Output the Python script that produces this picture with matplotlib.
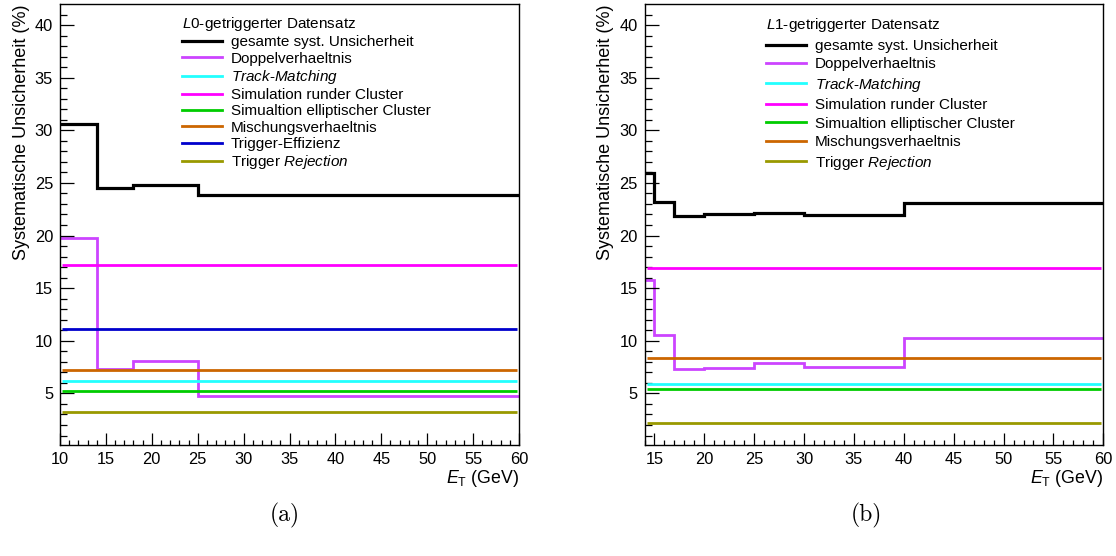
import matplotlib
matplotlib.use("Agg")
import matplotlib.pyplot as plt
from matplotlib.lines import Line2D
from matplotlib.ticker import MultipleLocator

plt.rcParams["font.family"] = ["Liberation Sans", "DejaVu Sans"]
plt.rcParams["mathtext.fontset"] = "custom"
plt.rcParams["mathtext.rm"] = "Liberation Sans"
plt.rcParams["mathtext.it"] = "Liberation Sans:italic"
plt.rcParams["mathtext.bf"] = "Liberation Sans:bold"

# ---- L0-triggered data set ----
l0_edges = [10, 14, 18, 25, 60]
l0_total = [30.6, 24.5, 24.8, 23.85]
l0_double_ratio = [19.75, 7.3, 8.1, 4.75]
l0_track_matching = 6.15
l0_sim_round = 17.2
l0_sim_elliptic = 5.25
l0_mixing = 7.25
l0_trigger_eff = 11.1
l0_trigger_rej = 3.2

# ---- L1-triggered data set ----
l1_edges = [14, 15, 17, 20, 25, 30, 40, 60]
l1_total = [25.95, 23.2, 21.85, 22.0, 22.1, 21.95, 23.05]
l1_double_ratio = [15.75, 10.55, 7.3, 7.45, 7.9, 7.5, 10.3]
l1_track_matching = 5.9
l1_sim_round = 16.95
l1_sim_elliptic = 5.45
l1_mixing = 8.4
l1_trigger_rej = 2.15

label_total = "gesamte syst. Unsicherheit"
label_ratio = "Doppelverhaeltnis"
label_track = r"$\mathit{Track\text{-}Matching}$"
label_round = "Simulation runder Cluster"
label_ellip = "Simualtion elliptischer Cluster"
label_mix = "Mischungsverhaeltnis"
label_eff = "Trigger-Effizienz"
label_rej = r"Trigger $\mathit{Rejection}$"

c_total = "black"
c_ratio = "#cc44ff"
c_track = "#22ffff"
c_round = "#ff00ff"
c_ellip = "#00cc00"
c_mix = "#cc6600"
c_eff = "#0000cc"
c_rej = "#999900"

W, H = 1116, 556
fig = plt.figure(figsize=(W / 100, H / 100), dpi=100)

def px_rect(x0, x1, ytop, ybot):
    return [x0 / W, 1 - ybot / H, (x1 - x0) / W, (ybot - ytop) / H]

def draw_panel(ax, edges, total, ratio, consts, title, leg_xy, leg_spacing):
    lw_tot, lw = 2.3, 2.0
    ax.stairs(total, edges, baseline=None, color=c_total, lw=lw_tot)
    ax.stairs(ratio, edges, baseline=None, color=c_ratio, lw=lw)
    inset = 0.25
    for val, lab, col in consts:
        ax.plot([edges[0] + inset, edges[-1] - inset], [val, val],
                color=col, lw=lw, solid_capstyle="butt")

    ax.set_xlim(edges[0], edges[-1])
    ax.set_ylim(0.1, 41.97)
    ax.xaxis.set_major_locator(MultipleLocator(5))
    ax.xaxis.set_minor_locator(MultipleLocator(1))
    ax.yaxis.set_minor_locator(MultipleLocator(1))
    ax.set_yticks([5, 10, 15, 20, 25, 30, 35, 40])
    ax.tick_params(axis="both", which="both", direction="in",
                   top=False, right=False, labelsize=11.8, pad=5)
    ax.tick_params(axis="y", which="major", length=10, width=0.9)
    ax.tick_params(axis="y", which="minor", length=4.8, width=0.9)
    ax.tick_params(axis="x", which="major", length=9, width=0.9)
    ax.tick_params(axis="x", which="minor", length=3.6, width=0.9)
    for s in ax.spines.values():
        s.set_linewidth(1.0)

    ax.set_ylabel("Systematische Unsicherheit (%)", fontsize=13, loc="top")
    ax.yaxis.set_label_coords(-0.066, 1.0)
    ax.set_xlabel(r"$E_{\mathrm{T}}$ (GeV)", fontsize=12.8, loc="right")
    ax.xaxis.set_label_coords(1.0, -0.052)

    handles = [Line2D([], [], color=c_total, lw=lw_tot),
               Line2D([], [], color=c_ratio, lw=lw)]
    labels = [label_total, label_ratio]
    for val, lab, col in consts:
        handles.append(Line2D([], [], color=col, lw=lw))
        labels.append(lab)
    leg = ax.legend(handles, labels, title=title, loc="upper left",
                    bbox_to_anchor=(leg_xy[0] / W, 1 - leg_xy[1] / H),
                    bbox_transform=fig.transFigure, frameon=False,
                    fontsize=11, title_fontsize=11, borderpad=0,
                    handlelength=2.6, handletextpad=0.6,
                    labelspacing=leg_spacing, alignment="left",
                    borderaxespad=0)
    return leg

ax1 = fig.add_axes(px_rect(60, 519, 4.3, 445))
draw_panel(ax1, l0_edges, l0_total, l0_double_ratio,
           [(l0_track_matching, label_track, c_track),
            (l0_sim_round, label_round, c_round),
            (l0_sim_elliptic, label_ellip, c_ellip),
            (l0_mixing, label_mix, c_mix),
            (l0_trigger_eff, label_eff, c_eff),
            (l0_trigger_rej, label_rej, c_rej)],
           r"$\mathit{L}$0-getriggerter Datensatz", (182, 15), 0.15)

ax2 = fig.add_axes(px_rect(644.5, 1103.3, 4.3, 445))
draw_panel(ax2, l1_edges, l1_total, l1_double_ratio,
           [(l1_track_matching, label_track, c_track),
            (l1_sim_round, label_round, c_round),
            (l1_sim_elliptic, label_ellip, c_ellip),
            (l1_mixing, label_mix, c_mix),
            (l1_trigger_rej, label_rej, c_rej)],
           r"$\mathit{L}$1-getriggerter Datensatz", (766, 16.5), 0.29)

fig.text(284.5 / W, 1 - 515 / H, "(a)", family="cmr10", fontsize=17,
         ha="center", va="center")
fig.text(866 / W, 1 - 515 / H, "(b)", family="cmr10", fontsize=17,
         ha="center", va="center")

fig.savefig("out.png", dpi=100)
